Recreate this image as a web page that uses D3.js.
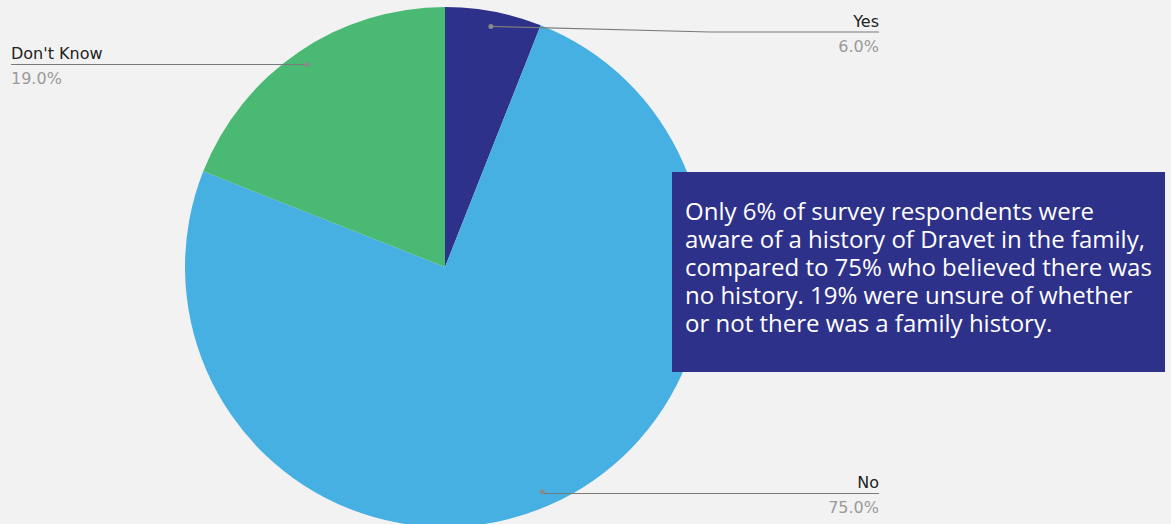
<!DOCTYPE html>
<html>
<head>
<meta charset="utf-8">
<script src="https://cdn.jsdelivr.net/npm/d3@7"></script>
<style>
  html, body { margin: 0; padding: 0; background: #f2f2f2; }
  #wrap { position: relative; width: 1171px; height: 524px; overflow: hidden; }
  svg { display: block; }
  .note {
    position: absolute;
    font-family: 'Open Sans', sans-serif;
    font-size: 24px;
    line-height: 28px;
    color: #ffffff;
    white-space: nowrap;
  }
  .note div { height: 28px; }
</style>
</head>
<body>
<div id="wrap"><svg id="chart" width="1171" height="524"></svg></div>
<script>
// Family history of Dravet syndrome — survey answers
const categories = ["Yes", "No", "Don't Know"];
const values = [6.0, 75.0, 19.0];
const colors = ["#2e3189", "#47b0e2", "#49b974"];
const noteLines = [
  "Only 6% of survey respondents were",
  "aware of a history of Dravet in the family,",
  "compared to 75% who believed there was",
  "no history. 19% were unsure of whether",
  "or not there was a family history."
];

const svg = d3.select("#chart");
const W = 1171, H = 524;
const cx = 445, cy = 267, R = 260;

svg.append("rect").attr("width", W).attr("height", H).attr("fill", "#f2f2f2");

const data = categories.map((c, i) => ({ name: c, value: values[i], color: colors[i] }));

const pie = d3.pie().value(d => d.value).sort(null);
const arcs = pie(data);
const arc = d3.arc().innerRadius(0).outerRadius(R);
const dotArc = d3.arc().innerRadius(R * 0.942).outerRadius(R * 0.942);

const g = svg.append("g").attr("transform", `translate(${cx},${cy})`);
g.selectAll("path.slice")
  .data(arcs)
  .join("path")
  .attr("class", "slice")
  .attr("d", arc)
  .attr("fill", d => d.data.color);

// label placement: each leader runs to a horizontal rule with name above and value below
const labelSpec = {
  "Yes": { side: "right", lineY: 32, bendX: 710, endX: 879 },
  "No": { side: "right", lineY: 493.5, bendX: null, endX: 879 },
  "Don't Know": { side: "left", lineY: 64.5, bendX: null, endX: 11 }
};

const labels = svg.append("g");
arcs.forEach(a => {
  const spec = labelSpec[a.data.name];
  const [dx, dy] = dotArc.centroid(a);
  const px = cx + dx, py = cy + dy;
  const pts = [[px, py]];
  if (spec.bendX !== null) pts.push([spec.bendX, spec.lineY]);
  else pts.push([px, spec.lineY]);
  pts.push([spec.endX, spec.lineY]);
  labels.append("path")
    .attr("d", d3.line()(pts))
    .attr("fill", "none")
    .attr("stroke", "#7a7a7a")
    .attr("stroke-width", 1.2);
  labels.append("circle")
    .attr("cx", px).attr("cy", py).attr("r", 2.5)
    .attr("fill", "#8a8a8a");
  const anchor = spec.side === "right" ? "end" : "start";
  labels.append("text")
    .attr("x", spec.endX).attr("y", spec.lineY - 5.5)
    .attr("text-anchor", anchor)
    .attr("font-family", "'DejaVu Sans', Verdana, sans-serif")
    .attr("font-size", 16)
    .attr("fill", "#222")
    .text(a.data.name);
  labels.append("text")
    .attr("x", spec.endX).attr("y", spec.lineY + 19.5)
    .attr("text-anchor", anchor)
    .attr("font-family", "'DejaVu Sans', Verdana, sans-serif")
    .attr("font-size", 16)
    .attr("fill", "#9a9a9a")
    .text(d3.format(".1f")(a.data.value) + "%");
});

// annotation box
svg.append("rect")
  .attr("x", 672).attr("y", 172)
  .attr("width", 493).attr("height", 200)
  .attr("fill", "#2e3189");

// annotation paragraph laid out as HTML so each line keeps a 28px line box
d3.select("#wrap").append("div")
  .attr("class", "note")
  .style("left", "685px")
  .style("top", "196.7px")
  .selectAll("div")
  .data(noteLines)
  .join("div")
  .text(d => d);
</script>
</body>
</html>
